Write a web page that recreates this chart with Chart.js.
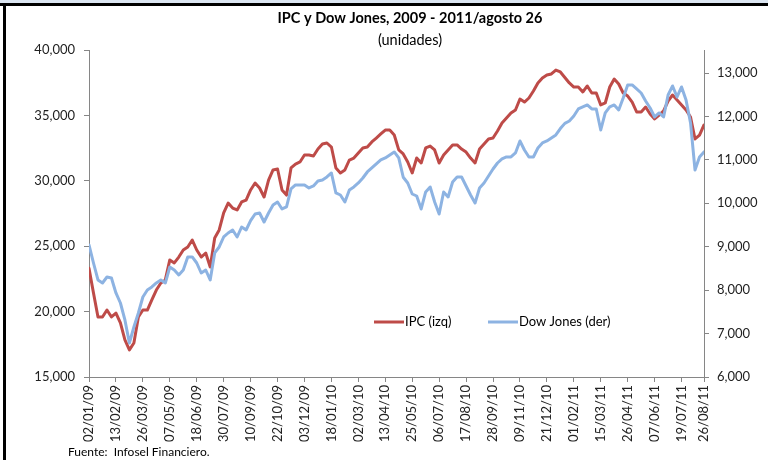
<!DOCTYPE html>
<html>
<head>
<meta charset="utf-8">
<script src="https://cdn.jsdelivr.net/npm/chart.js@4.4.1/dist/chart.umd.min.js"></script>
<style>
  body { margin: 0; background: #fff; }
  #wrap { width: 768px; height: 460px; position: relative; }
</style>
</head>
<body>
<div id="wrap"><canvas id="grafica" width="768" height="460"></canvas></div>
<script>
// etiquetas del eje x (cada 30 sesiones)
const tickLabels = ["02/01/09","13/02/09","26/03/09","07/05/09","18/06/09","30/07/09","10/09/09","22/10/09",
  "03/12/09","18/01/10","02/03/10","13/04/10","25/05/10","06/07/10","17/08/10","28/09/10","09/11/10",
  "21/12/10","01/02/11","15/03/11","26/04/11","07/06/11","19/07/11","26/08/11"];
const puntosPorEtiqueta = 6; // datos semanales

const ticksIzq = [15000, 20000, 25000, 30000, 35000, 40000];
const ticksDer = [6000, 7000, 8000, 9000, 10000, 11000, 12000, 13000];

// IPC (eje izquierdo), lectura semanal
const ipc = [23310,21420,19590,19590,20120,19590,19890,19130,17830,17070,17600,19590,20120,20120,20890,21650,
  22190,22420,23950,23720,24170,24710,24940,25470,24710,24170,24480,23410,25630,26240,27540,28300,
  27920,27770,28380,28530,29300,29830,29450,28760,30060,30830,30900,29300,28910,30980,31280,31440,
  31970,31970,31900,32430,32810,32890,32580,30980,30600,30830,31590,31740,32130,32510,32580,32970,
  33270,33580,33880,33880,33500,32360,32050,31440,30600,31740,31360,32510,32660,32360,31360,31970,
  32360,32740,32740,32430,32200,31740,31360,32430,32810,33200,33270,33810,34420,34800,35180,35410,
  36250,36020,36330,36870,37480,37860,38090,38170,38470,38320,37900,37480,37170,37170,36790,37250,
  36710,36710,35800,35950,37170,37780,37400,36710,36480,36020,35260,35260,35640,35110,34730,35030,
  35340,36100,36560,36180,35800,35410,34880,33200,33500,34270];

// Dow Jones (eje derecho)
const dowJones = [9040,8625,8234,8165,8303,8280,7935,7704,7313,6783,7152,7474,7842,8004,8073,8165,
  8234,8165,8533,8464,8349,8464,8764,8764,8625,8395,8464,8234,8856,8994,9224,9316,
  9385,9224,9454,9385,9600,9754,9777,9570,9777,9961,10030,9869,9915,10330,10422,10422,
  10422,10353,10399,10514,10537,10606,10698,10238,10191,10030,10307,10376,10468,10583,10721,10813,
  10905,10998,11044,11113,11182,11044,10600,10468,10214,10168,9869,10261,10376,10030,9754,10261,
  10145,10491,10606,10606,10399,10191,10007,10353,10468,10629,10790,10928,11021,11067,11067,11159,
  11435,11228,11067,11067,11274,11389,11435,11504,11573,11720,11840,11896,12011,12172,12218,12264,
  12172,12172,11688,12080,12218,12264,12149,12425,12725,12725,12633,12540,12356,12195,11988,12080,
  11988,12494,12702,12448,12679,12379,11850,10767,11067,11182];

const ultimo = ipc.length - 1;
const posTicks = tickLabels.map((t, k) => k < tickLabels.length - 1 ? k * puntosPorEtiqueta : ultimo);

const fuente = "Lato, 'Open Sans', sans-serif";
const gris = '#868686';

const marco = {
  id: 'marco',
  afterDraw(chart) {
    const ctx = chart.ctx;
    ctx.save();
    // franja superior y bordes
    ctx.fillStyle = '#dbe5f1';
    ctx.fillRect(0, 0, 768, 3);
    ctx.fillStyle = '#000';
    ctx.fillRect(0, 3, 768, 3);
    ctx.fillRect(3, 3, 3, 457);
    // titulo
    ctx.fillStyle = '#000';
    ctx.textAlign = 'center';
    ctx.textBaseline = 'middle';
    ctx.font = "bold 14.5px " + fuente;
    ctx.fillText('IPC y Dow Jones, 2009 - 2011/agosto 26', 410, 18);
    ctx.font = "14.5px " + fuente;
    ctx.fillText('(unidades)', 410, 40);
    // leyenda
    const items = [['IPC (izq)', '#BE4B48', 374], ['Dow Jones (der)', '#8DB3E2', 488]];
    ctx.textAlign = 'left';
    ctx.font = "13px " + fuente;
    items.forEach(it => {
      ctx.strokeStyle = it[1];
      ctx.lineWidth = 3;
      ctx.beginPath();
      ctx.moveTo(it[2], 322);
      ctx.lineTo(it[2] + 30, 322);
      ctx.stroke();
      ctx.fillStyle = '#000';
      ctx.fillText(it[0], it[2] + 31, 322);
    });
    // fuente
    ctx.font = "12px " + fuente;
    ctx.fillText('Fuente:  Infosel Financiero.', 68, 452);
    ctx.restore();
  }
};

new Chart(document.getElementById('grafica'), {
  type: 'line',
  data: {
    datasets: [
      {
        label: 'IPC (izq)',
        data: ipc.map((v, i) => ({x: i, y: v})),
        borderColor: '#BE4B48',
        borderWidth: 3,
        yAxisID: 'y',
        order: 2
      },
      {
        label: 'Dow Jones (der)',
        data: dowJones.map((v, i) => ({x: i, y: v})),
        borderColor: '#8DB3E2',
        borderWidth: 3,
        yAxisID: 'y2',
        order: 1
      }
    ]
  },
  options: {
    responsive: false,
    animation: false,
    layout: { padding: { top: 50, left: 0, right: 0, bottom: 0 } },
    elements: {
      point: { radius: 0 },
      line: { tension: 0, borderJoinStyle: 'round', borderCapStyle: 'round' }
    },
    plugins: { legend: { display: false }, title: { display: false }, tooltip: { enabled: false } },
    scales: {
      x: {
        type: 'linear',
        min: 0,
        max: ultimo,
        afterBuildTicks: s => { s.ticks = posTicks.map(v => ({value: v})); },
        afterFit: s => { s.height = 83; },
        grid: { drawOnChartArea: false, color: gris, tickLength: 5 },
        border: { color: gris },
        ticks: {
          autoSkip: false, minRotation: 90, maxRotation: 90, padding: 3,
          color: '#222', font: { family: fuente, size: 13 },
          callback: (v, i) => tickLabels[i]
        }
      },
      y: {
        position: 'left',
        min: 15000,
        max: 40000,
        afterBuildTicks: s => { s.ticks = ticksIzq.map(v => ({value: v})); },
        afterFit: s => { s.width = 89; },
        grid: { drawOnChartArea: false, color: gris, tickLength: 5 },
        border: { color: gris },
        ticks: {
          padding: 9, color: '#222', font: { family: fuente, size: 13 },
          callback: v => v.toLocaleString('en-US')
        }
      },
      y2: {
        position: 'right',
        min: 6000,
        max: 13530,
        afterBuildTicks: s => { s.ticks = ticksDer.map(v => ({value: v})); },
        afterFit: s => { s.width = 64; },
        grid: { drawOnChartArea: false, color: gris, tickLength: 5 },
        border: { color: gris },
        ticks: {
          padding: 8, color: '#222', font: { family: fuente, size: 13 },
          callback: v => v.toLocaleString('en-US')
        }
      }
    }
  },
  plugins: [marco]
});
</script>
</body>
</html>
